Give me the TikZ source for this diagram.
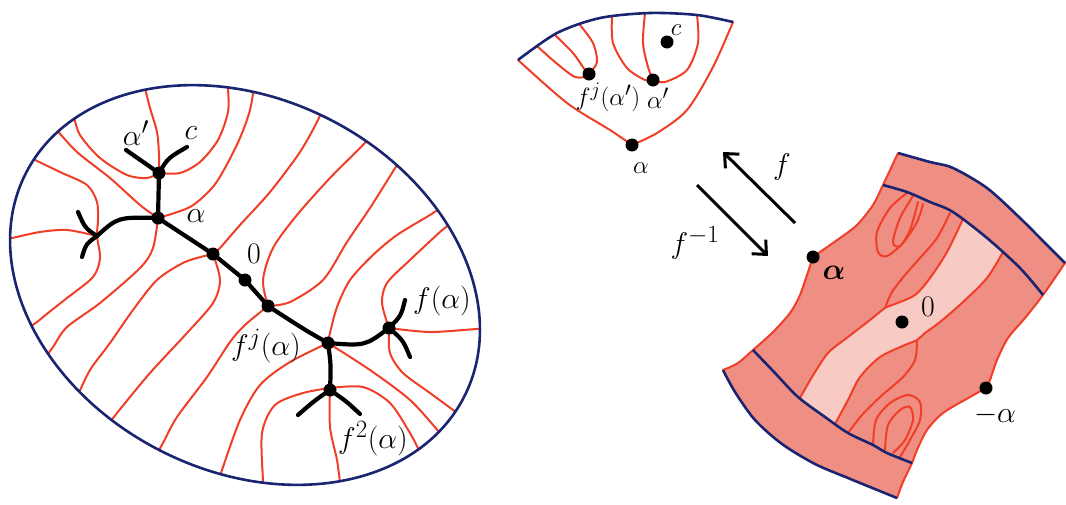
\documentclass[tikz,border=0pt]{standalone}
\usepackage{amsmath}
\usetikzlibrary{arrows.meta}
\definecolor{rl}{RGB}{240,62,40}
\definecolor{bl}{RGB}{27,36,112}
\definecolor{salmon}{RGB}{239,142,130}
\definecolor{lightp}{RGB}{248,202,196}
\begin{document}
\begin{tikzpicture}[x=1pt,y=-1pt,
  redc/.style={draw=rl, line width=2pt, line cap=round, line join=round},
  bnd/.style={draw=bl, line width=2.6pt},
  tree/.style={draw=black, line width=4.2pt, line cap=round},
  dot/.style={circle, fill=black, inner sep=0pt, minimum size=13pt},
  lab/.style={inner sep=0pt, scale=1.2, font=\fontsize{24.88}{27}\selectfont},
  labs/.style={inner sep=0pt, font=\fontsize{24.88}{27}\selectfont},
  arr/.style={draw=black, line width=3pt, -{Straight Barb[length=11pt,width=20pt,line width=3pt]}}
]
\useasboundingbox (0,0) rectangle (1066,504);

% ================= LEFT ELLIPSE =================
\begin{scope}
\clip[rotate around={-27:(245,285)}] (245,285) ellipse [x radius=246pt, y radius=186pt];
\draw[redc] plot[smooth] coordinates {(143,78) (145,88) (150,108) (157,132) (159,155) (159,173)};
\draw[redc] plot[smooth] coordinates {(68,105) (73,114) (80,135) (100,158) (127,175) (147,178) (159,173)};
\draw[redc] plot[smooth] coordinates {(159,173) (180,173) (200,162) (218,140) (228,112) (228,88) (227,75)};
\draw[redc] plot[smooth] coordinates {(158,218) (190,207) (212,188) (225,168) (240,138) (250,110) (255,80)};
\draw[redc] plot[smooth] coordinates {(48,120) (55,128) (77,152) (110,178) (140,205) (158,218)};
\draw[redc] plot[smooth] coordinates {(20,152) (29,157) (60,172) (87,185) (97,202) (98,220) (97,236) (100,258) (93,277) (67,298) (48,313) (37,322) (28,328)};
\draw[redc] plot[smooth] coordinates {(0,240) (12,238) (40,232) (67,230) (97,236)};
\draw[redc] plot[smooth] coordinates {(158,218) (153,248) (140,268) (100,303) (67,327) (53,347) (45,358)};
\draw[redc] plot[smooth] coordinates {(213,254) (185,262) (157,280) (133,310) (110,343) (90,370) (78,395)};
\draw[redc] plot[smooth] coordinates {(213,254) (220,280) (213,303) (187,333) (150,373) (117,413) (108,425)};
\draw[redc] plot[smooth] coordinates {(268,306) (245,325) (230,342) (207,377) (177,417) (163,443) (156,455)};
\draw[redc] plot[smooth] coordinates {(328,343) (290,362) (260,385) (240,420) (222,470) (218,483)};
\draw[redc] plot[smooth] coordinates {(330,388) (303,393) (275,405) (262,433) (263,482) (263,495)};
\draw[redc] plot[smooth] coordinates {(330,388) (330,427) (337,460) (340,483) (341,495)};
\draw[redc] plot[smooth] coordinates {(330,388) (363,387) (390,403) (410,433) (420,452) (427,463)};
\draw[redc] plot[smooth] coordinates {(328,343) (370,370) (410,400) (440,433) (450,445)};
\draw[redc] plot[smooth] coordinates {(389,328) (390,353) (403,373) (430,393) (460,415) (472,423)};
\draw[redc] plot[smooth] coordinates {(389,328) (430,332) (477,329) (490,329)};
\draw[redc] plot[smooth] coordinates {(389,328) (382,303) (387,283) (410,260) (440,232) (450,224)};
\draw[redc] plot[smooth] coordinates {(328,343) (330,333) (337,307) (350,280) (373,255) (397,235) (430,215) (442,207)};
\draw[redc] plot[smooth] coordinates {(268,306) (263,280) (273,248) (297,215) (330,178) (360,148) (369,138)};
\draw[redc] plot[smooth] coordinates {(213,254) (220,248) (240,225) (270,192) (300,152) (318,120) (323,108)};
\draw[redc] plot[smooth] coordinates {(268,306) (290,302) (323,280) (347,242) (370,208) (392,173) (399,162)};
\end{scope}
\draw[bnd, rotate around={-27:(245,285)}] (245,285) ellipse [x radius=246pt, y radius=186pt];

% tree
\coordinate (apL) at (126,150);
\coordinate (apR) at (187,147);
\coordinate (jL) at (97,236);
\coordinate (jLu) at (78,212);
\coordinate (jLd) at (82,257);
\coordinate (faU) at (405,300);
\coordinate (faD) at (410,357);
\coordinate (f2L) at (298,415);
\coordinate (f2R) at (360,414);
\node[dot] (ap) at (159,173) {};
\node[dot] (al) at (158,218) {};
\node[dot] (d1) at (213,254) {};
\node[dot] (d2) at (245,280) {};
\node[dot] (d3) at (268,306) {};
\node[dot] (J) at (328,343) {};
\node[dot] (fa) at (389,328) {};
\node[dot] (f2) at (330,390) {};
\draw[tree] (apL) -- (ap.center);
\draw[tree] (ap.center) .. controls (168,158) .. (apR);
\draw[tree] (ap.center) -- (al.center);
\draw[tree] (al.center) .. controls (118,217) .. (jL);
\draw[tree] (jL) .. controls (85,228) .. (jLu);
\draw[tree] (jL) .. controls (86,244) .. (jLd);
\draw[tree] (al.center) -- (d1.center) -- (d2.center) -- (d3.center) .. controls (305,330) .. (J.center);
\draw[tree] (J.center) .. controls (365,346) .. (fa.center);
\draw[tree] (fa.center) .. controls (401,316) .. (faU);
\draw[tree] (fa.center) .. controls (403,340) .. (faD);
\draw[tree] (J.center) .. controls (331,365) .. (f2.center);
\draw[tree] (f2.center) .. controls (314,401) .. (f2L);
\draw[tree] (f2.center) .. controls (346,401) .. (f2R);

\node[lab] at (136,133) {$\alpha'$};
\node[lab] at (191,133) {$c$};
\node[lab] at (196,216) {$\alpha$};
\node[lab] at (254,254) {$0$};
\node[lab] at (266,346) {$f^j(\alpha)$};
\node[lab] at (442,301) {$f(\alpha)$};
\node[lab] at (373,439) {$f^2(\alpha)$};

% ================= TOP FAN =================
\draw[redc] plot[smooth] coordinates {(537,46) (555,62) (575,77) (589,76)};
\draw[redc] plot[smooth] coordinates {(555,35) (573,53) (585,70) (589,74)};
\draw[redc] plot[smooth] coordinates {(580,25) (593,43) (597,62) (589,74)};
\draw[redc] plot[smooth] coordinates {(612,16) (613,43) (627,68) (645,80) (653,80)};
\draw[redc] plot[smooth] coordinates {(645,13) (643,43) (648,67) (653,80)};
\draw[redc] plot[smooth] coordinates {(697,15) (698,43) (687,70) (665,82) (653,80)};
\draw[redc] plot[smooth] coordinates {(518,60) (567,103) (610,130) (632,145)};
\draw[redc] plot[smooth] coordinates {(733,22) (713,67) (687,110) (657,133) (632,145)};
\draw[bnd] plot[smooth] coordinates {(518,60) (557,33) (600,18) (650,13) (697,15) (733,22)};
\node[dot] (fj) at (589,74) {};
\node[dot] (apf) at (653,80) {};
\node[dot] (cf) at (667,42) {};
\node[dot] (alf) at (632,145) {};
\node[labs] at (608,97) {$f^j(\alpha')$};
\node[labs] at (658,98) {$\alpha'$};
\node[labs] at (676,30) {$c$};
\node[labs] at (641,168) {$\alpha$};

% ================= ARROWS =================
\coordinate (fs) at (795,223);
\coordinate (fe) at (723,152);
\coordinate (gs) at (697,185);
\coordinate (ge) at (768,256);
\draw[arr] (fs) -- (fe);
\draw[arr] (gs) -- (ge);
\node[lab] at (782,167) {$f$};
\node[lab] at (695,243) {$f^{-1}$};

% ================= RIGHT SHAPE =================
\fill[salmon] plot[smooth] coordinates {(898,153) (930,162) (953,168) (987,188) (1020,218) (1047,245) (1065,263)}
  -- plot[smooth] coordinates {(1065,263) (1043,295) (1025,318) (1008,338) (997,360) (990,380) (986,388)}
  -- plot[smooth] coordinates {(986,388) (970,397) (943,413) (927,430) (917,450) (912,463) (903,482) (897,498)}
  -- plot[smooth] coordinates {(897,498) (865,485) (848,478) (815,464) (782,444) (755,420) (735,392) (723,370)}
  -- plot[smooth] coordinates {(723,370) (738,363) (753,350) (772,333) (790,313) (800,295) (808,272) (813,257)}
  -- plot[smooth] coordinates {(813,257) (820,252) (840,238) (857,225) (873,205) (883,185) (898,153)} -- cycle;
% light strip
\fill[lightp] plot[smooth] coordinates {(963,219) (987,238) (1003,252)}
  -- plot[smooth] coordinates {(1003,252) (987,278) (963,302) (940,322) (925,333) (917,340) (905,345) (880,357) (860,377) (848,400) (835,424)}
  -- plot[smooth] coordinates {(835,424) (825,417) (812,408) (800,398)}
  -- plot[smooth] coordinates {(800,398) (812,377) (828,353) (848,337) (870,320) (885,308) (895,304) (915,295) (930,278) (947,252) (963,219)} -- cycle;
\draw[redc] plot[smooth] coordinates {(1003,252) (987,278) (963,302) (940,322) (925,333) (917,340) (905,345) (880,357) (860,377) (848,400) (835,424)};
\draw[redc] plot[smooth] coordinates {(800,398) (812,377) (828,353) (848,337) (870,320) (885,308) (895,304) (915,295) (930,278) (947,252) (963,219)};
\draw[redc] plot[smooth] coordinates {(950,213) (937,238) (920,258) (905,275) (892,292) (885,308)};
\draw[redc] plot[smooth] coordinates {(917,340) (915,360) (903,377) (880,397) (862,415) (848,433)};
% U loops top
\draw[redc] plot[smooth] coordinates {(907,193) (890,208) (877,232) (878,252) (887,256) (903,243) (917,222) (923,204)};
\draw[redc] plot[smooth] coordinates {(913,196) (900,218) (893,242) (900,246) (910,230) (918,202)};
% U loops bottom
\draw[redc] plot[smooth] coordinates {(873,445) (876,420) (890,403) (908,395) (920,402) (920,420) (910,440) (900,457)};
\draw[redc] plot[smooth] coordinates {(885,450) (888,425) (900,410) (910,407) (913,420) (905,440) (893,453)};
% sides
\draw[redc] plot[smooth] coordinates {(1065,263) (1043,295) (1025,318) (1008,338) (997,360) (990,380) (986,388)};
\draw[redc] plot[smooth] coordinates {(986,388) (970,397) (943,413) (927,430) (917,450) (912,463) (903,482) (897,498)};
\draw[redc] plot[smooth] coordinates {(723,370) (738,363) (753,350) (772,333) (790,313) (800,295) (808,272) (813,257)};
\draw[redc] plot[smooth] coordinates {(813,257) (820,252) (840,238) (857,225) (873,205) (883,185) (898,153)};
% blue lines
\draw[bnd] plot[smooth] coordinates {(898,153) (930,162) (953,168) (987,188) (1020,218) (1047,245) (1065,263)};
\draw[bnd] plot[smooth] coordinates {(897,498) (865,485) (848,478) (815,464) (782,444) (755,420) (735,392) (723,370)};
\draw[bnd] plot[smooth] coordinates {(883,185) (907,192) (930,202) (953,212) (987,238) (1020,268) (1043,295)};
\draw[bnd] plot[smooth] coordinates {(753,350) (775,373) (798,397) (825,417) (848,433) (873,445) (887,453) (912,463)};
\node[dot] (ra) at (813,257) {};
\node[dot] (rz) at (902,322) {};
\node[dot] (rm) at (986,388) {};
\node[lab] at (834,273) {$\boldsymbol{\alpha}$};
\node[lab] at (928,307) {$0$};
\node[lab] at (995,415) {$-\alpha$};
\end{tikzpicture}
\end{document}
